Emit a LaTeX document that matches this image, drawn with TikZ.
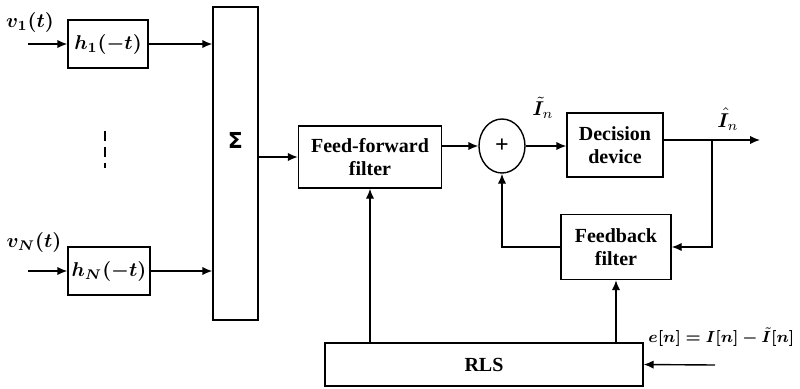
\documentclass[tikz,border=0pt]{standalone}
\usepackage{fontspec}
\usepackage{bm}
\setmainfont{Liberation Serif}
\newfontfamily\sigmafont{DejaVu Sans}
\usetikzlibrary{shapes.geometric,arrows.meta}
\tikzset{
  blk/.style={draw,line width=0.7pt,align=center,font=\fontsize{10}{11.5}\selectfont\bfseries,inner sep=1pt},
  lbl/.style={font=\fontsize{10}{12}\selectfont},
  wire/.style={line width=0.7pt,-{Latex[length=5pt,width=4.2pt]}}
}
\begin{document}
\begin{tikzpicture}[x=0.5pt,y=-0.5pt]
      \useasboundingbox (0,0) rectangle (800,388);
      \draw
        (108,44) node[blk,minimum width=40pt,minimum height=24pt] (h1){$\bm{h_1(-t)}$}
        (109,271) node[blk,minimum width=41pt,minimum height=24pt] (hN){$\bm{h_N(-t)}$}
        (235.5,163.5) node[blk,minimum width=22.5pt,minimum height=156.5pt] (sum){}
        (370,157) node[blk,minimum width=71.5pt,minimum height=31pt] (ff){Feed-forward\\filter}
        (502,146) node[blk,ellipse,minimum width=23pt,minimum height=27pt,font=\fontsize{12}{12}\selectfont\bfseries] (plus){+}
        (615,145) node[blk,minimum width=48pt,minimum height=32pt] (dec){Decision\\device}
        (616,247) node[blk,minimum width=55pt,minimum height=32.5pt] (fb){Feedback\\filter}
        (484,364.5) node[blk,minimum width=159pt,minimum height=21.5pt] (rls){RLS};
      \node[font=\fontsize{11}{12}\sigmafont\bfseries] (sig) at (235.5,140) {Σ};
      \coordinate (v1in) at (28,44);
      \coordinate (vNin) at (28,271);
      \coordinate (out) at (760,140);
      \coordinate (br) at (712,140);
      \coordinate (ein) at (715,365);
      \node[lbl] (v1) at (30,22) {$\bm{v_1(t)}$};
      \node[lbl] (vN) at (34,242) {$\bm{v_N(t)}$};
      \node[lbl] (It) at (543,108) {$\bm{\tilde I}_n$};
      \node[lbl] (Ih) at (728,119) {$\bm{\hat I}_n$};
      \node[lbl,anchor=west,inner sep=0pt,font=\fontsize{8.4}{10}\selectfont] (err) at (648,337) {$\bm{e[n]=I[n]-\tilde I[n]}$};
      \draw[line width=1pt,dash pattern=on 5pt off 3pt] (105,131) -- (105,168);
      \begin{scope}[wire]
        \draw (v1in) to (h1.west);
        \draw (vNin) to (hN.west);
        \draw (h1.east) to (h1.east -| sum.west);
        \draw (hN.east) to (hN.east -| sum.west);
        \draw (ff.west -| sum.east) to (ff.west);
        \draw (plus.west -| ff.east) to (plus.west);
        \draw (plus.east) to (plus.east -| dec.west);
        \draw (out -| dec.east) to (out);
        \draw (br) |- (fb.east);
        \draw (fb.west) -| (plus.south);
        \draw (ff.south |- rls.north) to (ff.south);
        \draw (fb.south |- rls.north) to (fb.south);
        \draw (ein) to (rls.east);
      \end{scope}
    \end{tikzpicture}
\end{document}
